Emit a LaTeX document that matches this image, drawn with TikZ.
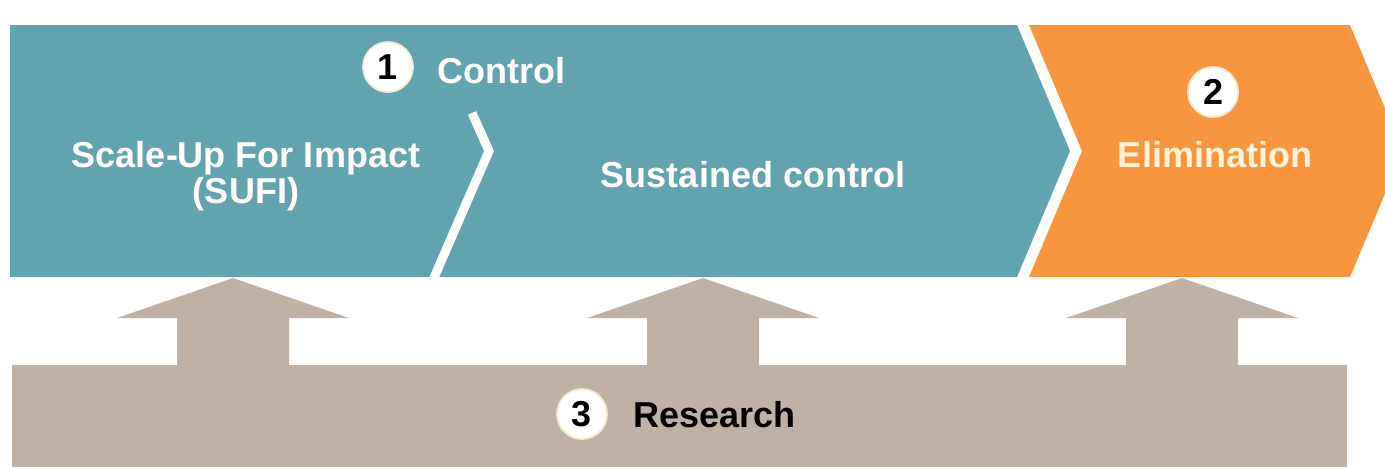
\documentclass[tikz,border=0pt]{standalone}
\usepackage{fontspec}
\setmainfont{Liberation Sans}
\definecolor{ctrlteal}{RGB}{97,164,175}
\definecolor{elimorange}{RGB}{247,150,63}
\definecolor{researchtaupe}{RGB}{191,178,165}
\definecolor{elimtext}{RGB}{255,242,212}
\definecolor{badgeline}{RGB}{245,233,208}
\begin{document}
\begin{tikzpicture}[x=0.01cm,y=-0.01cm,
		label/.style={font=\bfseries\fontsize{10.24}{10.24}\selectfont,text=white,inner sep=0pt},
		badge/.style={circle,fill=white,draw=badgeline,line width=.5pt,minimum size=.5cm,inner sep=0pt,font=\bfseries\fontsize{10.24}{10.24}\selectfont}]
		\useasboundingbox (0,0) rectangle (1385,469);
		\begin{scope}
			\clip (0,0) rectangle (1385,469);
			\fill[ctrlteal] (10,25) -- (1017,25) -- (1070,151) -- (1017,277) -- (10,277) -- cycle;
			\fill[elimorange] (1029,25) -- (1350,25) -- (1403,151) -- (1350,277) -- (1029,277) -- (1082,151) -- cycle;
		\end{scope}
		\draw[white,line width=.09cm] (433,280) -- (489,151) -- (472,113);
		\fill[researchtaupe] (12,365) rectangle (1347,467);
		\foreach \x in {233,703,1182}
			\fill[researchtaupe] (\x-56,366) -- (\x-56,318) -- (\x-116,318) -- (\x,278) -- (\x+116,318) -- (\x+56,318) -- (\x+56,366) -- cycle;
		\node[badge] (one) at (388,67) {1};
		\node[label,anchor=base west] (control) at (437,83) {Control};
		\node[label,align=center] (sufi) at (246,176) {Scale-Up For Impact\\(SUFI)};
		\node[label,anchor=base] (sustained) at (753,187) {Sustained control};
		\node[badge] (two) at (1213,92) {2};
		\node[label,anchor=base,text=elimtext] (elimination) at (1215,167) {Elimination};
		\node[badge] (three) at (582,414) {3};
		\node[label,anchor=base west,text=black] (research) at (633,427) {Research};
	\end{tikzpicture}
\end{document}
